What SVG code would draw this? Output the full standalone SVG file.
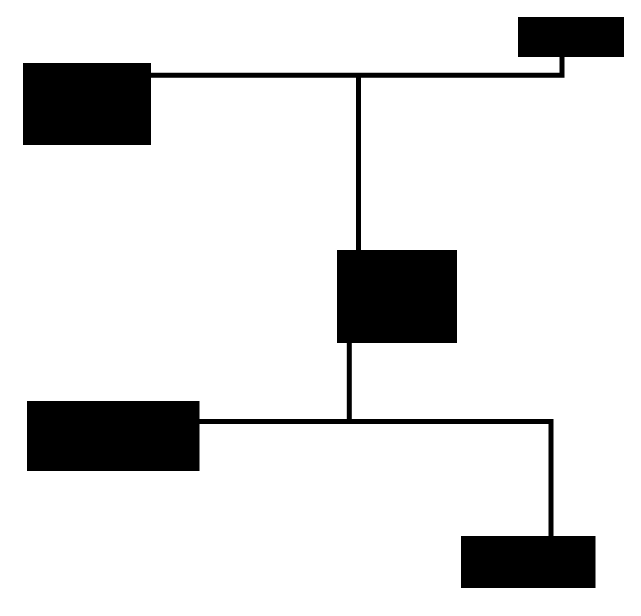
<svg xmlns="http://www.w3.org/2000/svg" width="641" height="616" viewBox="0 0 641 616">
<style>
.node{fill:#000;stroke:none}
.conn{fill:none;stroke:#000;stroke-width:5;stroke-linejoin:miter;stroke-linecap:butt}
</style>
<rect width="641" height="616" fill="#fff"/>
<g id="connectors">
<polyline class="conn" points="150,75.2 562,75.2 562,56"/>
<line class="conn" x1="358.5" y1="75" x2="358.5" y2="251"/>
<line class="conn" x1="349.3" y1="342" x2="349.3" y2="421.5"/>
<polyline class="conn" points="199,421.5 551,421.5 551,537"/>
</g>
<g id="node-top-right"><rect class="node" x="518" y="17" width="106" height="40"/></g>
<g id="node-top-left"><rect class="node" x="23" y="63" width="128" height="82"/></g>
<g id="node-middle"><rect class="node" x="337" y="250" width="120" height="93"/></g>
<g id="node-bottom-left"><rect class="node" x="27" y="401" width="172.5" height="70"/></g>
<g id="node-bottom-right"><rect class="node" x="461" y="536" width="134.5" height="52"/></g>
</svg>
